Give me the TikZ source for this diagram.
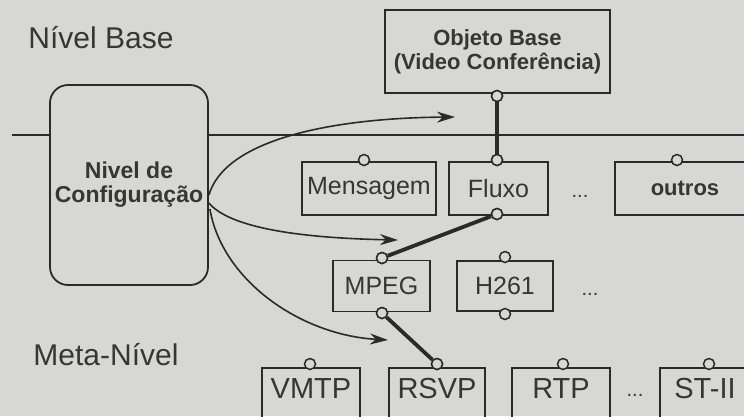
\documentclass[tikz,border=0pt]{standalone}
\usepackage{fontspec}
\setmainfont{Liberation Sans}
\usetikzlibrary{arrows.meta,calc}
\definecolor{bg}{HTML}{D7D7D4}
\definecolor{ink}{HTML}{2A2A2A}
\definecolor{txt}{HTML}{363636}
\tikzset{
  box/.style={draw=ink, line width=1.8pt, inner sep=0pt, text=txt, font=\fontsize{25}{28}\selectfont},
  bbox/.style={box, font=\bfseries\fontsize{22}{24}\selectfont, align=center},
  lbl/.style={inner sep=0pt, text=txt, font=\fontsize{29}{32}\selectfont},
  port/.style={circle, draw=ink, fill=bg, line width=1.5pt, minimum size=11pt, inner sep=0pt},
  link/.style={draw=ink, line width=3.8pt},
  arr/.style={draw=ink, line width=1.6pt, -{Stealth[length=18pt,width=11pt]}},
  dots/.style={inner sep=0pt, text=txt, font=\fontsize{20}{22}\selectfont},
}
\begin{document}
\begin{tikzpicture}[x=1pt,y=-1pt]
\useasboundingbox (0,0) rectangle (744,416);
\fill[bg] (0,0) rectangle (744,416);
\clip (0,0) rectangle (744,416);

% level labels
\node[lbl, font=\fontsize{30}{32}\selectfont] (nb) at (101,38) {Nível Base};
\node[lbl, font=\fontsize{30}{32}\selectfont] (mn) at (106,355) {Meta-Nível};

% configuration box
\node[bbox, rounded corners=18pt, minimum width=158pt, minimum height=200pt,
      font=\bfseries\fontsize{23}{24}\selectfont] (cfg) at (129,185) {Nivel de\\Configuração};

% separator line
\coordinate (sl) at (12,135);
\coordinate (sr) at (750,135);
\draw[ink, line width=1.8pt] (sl) -- (sl -| cfg.west);
\draw[ink, line width=1.8pt] (sr -| cfg.east) -- (sr);

% base object
\node[bbox, minimum width=225pt, minimum height=83pt] (obj) at (497.5,51.5) {Objeto Base\\(Video Conferência)};

% middle row
\node[box, minimum width=134pt, minimum height=53pt] (msg) at (369,188.5) {Mensagem};
\node[box, minimum width=99pt, minimum height=53pt] (flx) at (498.5,188.5) {Fluxo};
\node[dots] (d1) at (580,196) {...};
\node[box, font=\bfseries\fontsize{22}{24}\selectfont, minimum width=140pt, minimum height=53pt] (out) at (685,188.5) {outros};

% codec row
\node[box, minimum width=97pt, minimum height=51pt] (mpeg) at (381.5,286) {MPEG};
\node[box, minimum width=96pt, minimum height=50pt] (h261) at (505,286) {H261};
\node[dots] (d2) at (590,294) {...};

% protocol row
\node[box, minimum width=98pt, minimum height=60pt] (vmtp) at (311,398) {};
\node[box, minimum width=96pt, minimum height=60pt] (rsvp) at (437,398) {};
\node[box, minimum width=98pt, minimum height=60pt] (rtp) at (561,398) {};
\node[box, minimum width=90pt, minimum height=60pt] (st) at (705,398) {};
\node[lbl] (tvmtp) at (311,389) {VMTP};
\node[lbl] (trsvp) at (437,389) {RSVP};
\node[lbl] (trtp) at (561,389) {RTP};
\node[lbl] (tst) at (705,389) {ST-II};
\node[dots] (d3) at (635,395) {...};

% ports
\node[port] (pobj) at (497,96) {};
\node[port] (pmsg) at (364,160) {};
\node[port] (pflxt) at (497,160) {};
\node[port] (pflxb) at (497,214) {};
\node[port] (pout) at (677,160) {};
\node[port] (pmpt) at (382,258) {};
\node[port] (pmpb) at (382,313) {};
\node[port] (pht) at (505,257) {};
\node[port] (phb) at (505,314) {};
\node[port] (pvm) at (310,364) {};
\node[port] (prs) at (437,364) {};
\node[port] (prt) at (563,364) {};
\node[port] (pst) at (709,364) {};

% thick links
\draw[link] (pobj) -- (pflxt);
\draw[link] (pflxb) -- (pmpt);
\draw[link] (pmpb) -- (prs);

% arrows from configuration level
\coordinate (a1) at (455,117);
\coordinate (a2) at (398,240);
\coordinate (a3) at (388,340);
\draw[arr] ($(cfg.east)+(0,10)$) .. controls (225,140) and (330,118) .. (a1);
\draw[arr] ($(cfg.east)+(0,18)$) .. controls (230,228) and (300,238) .. (a2);
\draw[arr] ($(cfg.east)+(1,24)$) .. controls (222,280) and (300,335) .. (a3);

% redraw ports on top of links
\foreach \p in {pobj,pflxt,pflxb,pmpt,pmpb,prs}
  \node[port] at (\p) {};
\end{tikzpicture}
\end{document}
